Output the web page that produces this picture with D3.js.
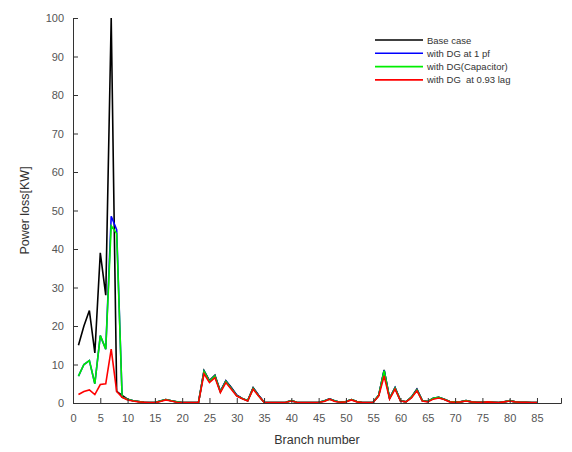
<!DOCTYPE html>
<html>
<head>
<meta charset="utf-8">
<script src="https://cdn.jsdelivr.net/npm/d3@7"></script>
<style>
  body { margin: 0; background: #fff; }
  svg { display: block; font-family: "Liberation Sans", Arial, sans-serif; }
</style>
</head>
<body>
<div id="chart"></div>
<script>
// Data: power loss per branch (kW), branches 1..85
const branches = d3.range(1, 86);

const baseCase = [15, 20, 24, 13, 39, 28, 100, 3, 2, 1,
  0.6, 0.4, 0.2, 0.1, 0.1, 0.5, 0.9, 0.6, 0.3, 0.1,
  0.1, 0.1, 0.2, 8.4, 5.8, 7.2, 3, 5.8, 4, 2,
  1.2, 0.6, 4, 2, 0.2, 0.1, 0.1, 0.1, 0.2, 0.6,
  0.2, 0.1, 0.1, 0.1, 0.2, 0.5, 1.1, 0.5, 0.2, 0.4,
  0.9, 0.4, 0.1, 0.1, 0.2, 2, 8.6, 1.2, 4, 0.6,
  0.3, 1.5, 3.6, 0.6, 0.4, 1.2, 1.5, 1, 0.4, 0.3,
  0.3, 0.6, 0.3, 0.2, 0.2, 0.3, 0.2, 0.1, 0.3, 0.6,
  0.3, 0.2, 0.2, 0.1, 0.1];

const dgUnity = [7, 10, 11, 5, 17.5, 14, 48.5, 45, 1.5, 1,
  0.6, 0.4, 0.2, 0.1, 0.1, 0.5, 0.9, 0.6, 0.3, 0.1,
  0.1, 0.1, 0.2, 8.3, 5.7, 7.1, 3, 5.7, 3.9, 2,
  1.2, 0.6, 3.9, 2, 0.2, 0.1, 0.1, 0.1, 0.2, 0.6,
  0.2, 0.1, 0.1, 0.1, 0.2, 0.5, 1.1, 0.5, 0.2, 0.4,
  0.9, 0.4, 0.1, 0.1, 0.2, 2, 8.5, 1.2, 4, 0.6,
  0.3, 1.5, 3.5, 0.6, 0.4, 1.2, 1.5, 1, 0.4, 0.3,
  0.3, 0.6, 0.3, 0.2, 0.2, 0.3, 0.2, 0.1, 0.3, 0.6,
  0.3, 0.2, 0.2, 0.1, 0.1];

const dgCapacitor = [7, 10, 11, 5, 17.5, 14, 46, 44, 1.5, 1,
  0.6, 0.4, 0.2, 0.1, 0.1, 0.5, 0.9, 0.6, 0.3, 0.1,
  0.1, 0.1, 0.2, 8.2, 5.6, 7, 2.9, 5.6, 3.8, 1.9,
  1.2, 0.6, 3.8, 1.9, 0.2, 0.1, 0.1, 0.1, 0.2, 0.6,
  0.2, 0.1, 0.1, 0.1, 0.2, 0.5, 1, 0.5, 0.2, 0.4,
  0.9, 0.4, 0.1, 0.1, 0.2, 2, 8.4, 1.2, 3.9, 0.6,
  0.3, 1.5, 3.4, 0.6, 0.4, 1.2, 1.5, 1, 0.4, 0.3,
  0.3, 0.6, 0.3, 0.2, 0.2, 0.3, 0.2, 0.1, 0.3, 0.6,
  0.3, 0.2, 0.2, 0.1, 0.1];

const dgLag = [2.2, 3, 3.4, 2.2, 4.8, 5, 14, 3, 1.5, 0.8,
  0.5, 0.3, 0.2, 0.1, 0.1, 0.4, 0.8, 0.5, 0.2, 0.1,
  0.1, 0.1, 0.2, 7.6, 5.3, 6.6, 2.7, 5.3, 3.6, 1.8,
  1.1, 0.5, 3.6, 1.8, 0.2, 0.1, 0.1, 0.1, 0.2, 0.5,
  0.2, 0.1, 0.1, 0.1, 0.2, 0.4, 1, 0.4, 0.2, 0.3,
  0.8, 0.3, 0.1, 0.1, 0.2, 1.8, 7, 1, 3.6, 0.5,
  0.3, 1.3, 3.2, 0.5, 0.3, 1, 1.3, 0.9, 0.3, 0.2,
  0.3, 0.5, 0.3, 0.2, 0.2, 0.3, 0.2, 0.1, 0.3, 0.5,
  0.3, 0.2, 0.2, 0.1, 0.1];

const seriesNames = ["Base case", "with DG at 1 pf", "with DG(Capacitor)", "with DG  at 0.93 lag"];
const seriesColors = ["#000000", "#0000ff", "#00ee00", "#ff0000"];
const seriesValues = [baseCase, dgUnity, dgCapacitor, dgLag];

const xTicks = d3.range(0, 90, 5);
const yTicks = d3.range(0, 101, 10);

// Layout
const W = 572, H = 452;
const margin = { top: 18, right: 11, bottom: 49, left: 73 };
const width = W - margin.left - margin.right;
const height = H - margin.top - margin.bottom;

const svg = d3.select("#chart").append("svg")
  .attr("width", W)
  .attr("height", H);

const g = svg.append("g")
  .attr("transform", `translate(${margin.left},${margin.top})`);

const x = d3.scaleLinear().domain([0, 89.4]).range([0, width]);
const y = d3.scaleLinear().domain([0, 100]).range([height, 0]);

// Lines
const line = d3.line()
  .x((d, i) => x(branches[i]))
  .y(d => y(d));

seriesValues.forEach((vals, k) => {
  g.append("path")
    .datum(vals)
    .attr("fill", "none")
    .attr("stroke", seriesColors[k])
    .attr("stroke-width", 1.6)
    .attr("d", line);
});

// Axes (MATLAB style, ticks inside)
const xAxis = g.append("g")
  .attr("transform", `translate(0,${height})`)
  .call(d3.axisBottom(x).tickValues(xTicks).tickSize(-5).tickPadding(11));

const yAxis = g.append("g")
  .call(d3.axisLeft(y).tickValues(yTicks).tickSize(-5).tickPadding(9));

[xAxis, yAxis].forEach(a => {
  a.select(".domain").attr("stroke", "#333").attr("stroke-width", 1);
  a.selectAll(".tick line").attr("stroke", "#333");
  a.selectAll(".tick text").attr("fill", "#555").style("font-size", "11px");
});

// Axis labels
svg.append("text")
  .attr("x", margin.left + width / 2)
  .attr("y", 444)
  .attr("text-anchor", "middle")
  .attr("fill", "#333")
  .style("font-size", "12.5px")
  .text("Branch number");

svg.append("text")
  .attr("transform", `translate(29,${margin.top + height / 2}) rotate(-90)`)
  .attr("text-anchor", "middle")
  .attr("fill", "#333")
  .style("font-size", "12.5px")
  .text("Power loss[KW]");

// Legend
const legend = svg.append("g").attr("transform", "translate(375,40)");
seriesNames.forEach((name, i) => {
  const row = legend.append("g").attr("transform", `translate(0,${i * 13.3})`);
  row.append("line")
    .attr("x1", 0).attr("x2", 48)
    .attr("stroke", seriesColors[i])
    .attr("stroke-width", 1.6);
  row.append("text")
    .attr("x", 52)
    .attr("y", 3.5)
    .attr("fill", "#333")
    .style("font-size", "9.5px")
    .style("white-space", "pre")
    .text(name);
});
</script>
</body>
</html>
